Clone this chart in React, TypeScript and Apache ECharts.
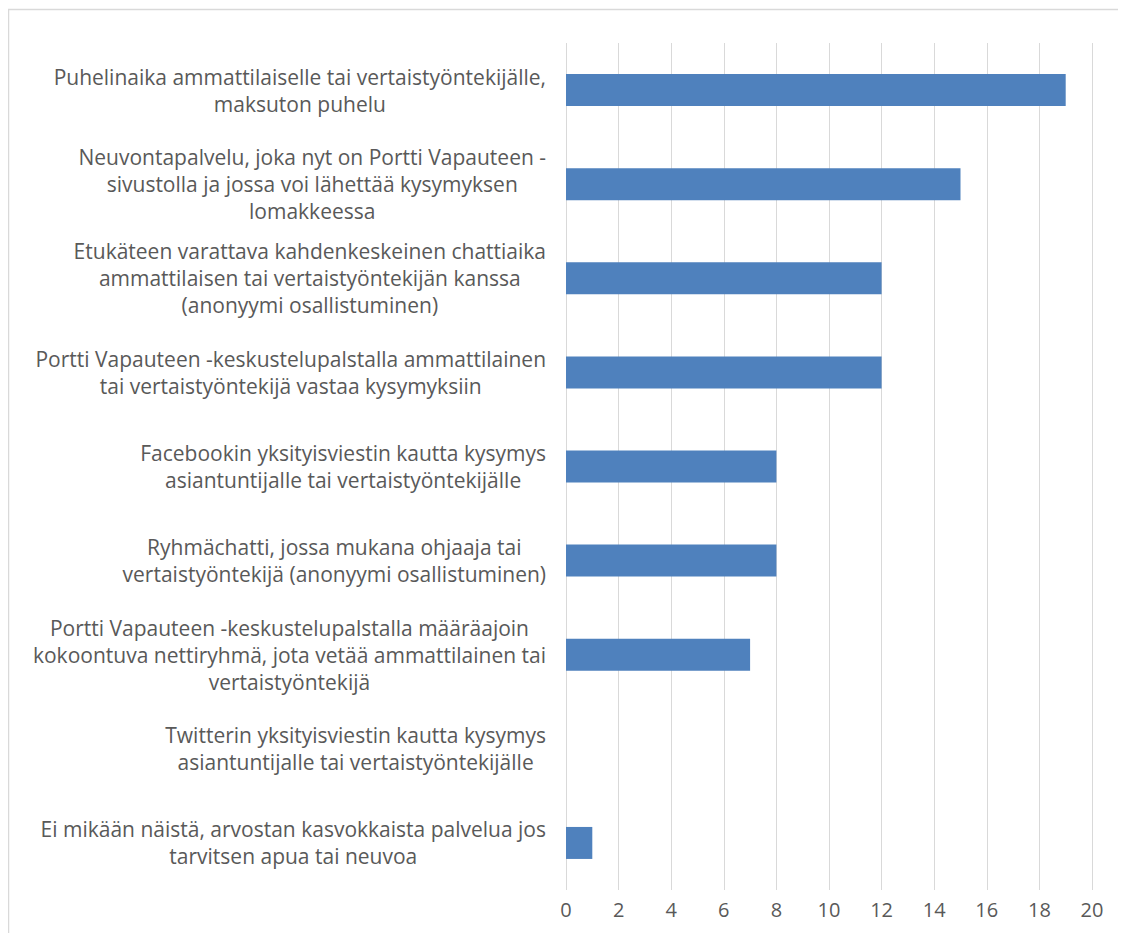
import React, { useEffect, useRef } from "react";
import * as echarts from "echarts";

const categories: string[] = [
  "Puhelinaika ammattilaiselle tai vertaistyöntekijälle,\nmaksuton puhelu",
  "Neuvontapalvelu, joka nyt on Portti Vapauteen -\nsivustolla ja jossa voi lähettää kysymyksen\nlomakkeessa",
  "Etukäteen varattava kahdenkeskeinen chattiaika\nammattilaisen tai vertaistyöntekijän kanssa\n(anonyymi osallistuminen)",
  "Portti Vapauteen -keskustelupalstalla ammattilainen\ntai vertaistyöntekijä vastaa kysymyksiin",
  "Facebookin yksityisviestin kautta kysymys\nasiantuntijalle tai vertaistyöntekijälle",
  "Ryhmächatti, jossa mukana ohjaaja tai\nvertaistyöntekijä (anonyymi osallistuminen)",
  "Portti Vapauteen -keskustelupalstalla määräajoin\nkokoontuva nettiryhmä, jota vetää ammattilainen tai\nvertaistyöntekijä",
  "Twitterin yksityisviestin kautta kysymys\nasiantuntijalle tai vertaistyöntekijälle",
  "Ei mikään näistä, arvostan kasvokkaista palvelua jos\ntarvitsen apua tai neuvoa",
];

const values: number[] = [19, 15, 12, 12, 8, 8, 7, 0, 1];

const FONT = "'Open Sans', 'Noto Sans', sans-serif";

export default function App() {
  const ref = useRef<HTMLDivElement>(null);
  useEffect(() => {
    if (!ref.current) return;
    const chart = echarts.init(ref.current, null, { renderer: "svg" });
    chart.setOption({
      animation: false,
      backgroundColor: "#ffffff",
      graphic: [
        {
          type: "rect",
          shape: { x: 0.5, y: 1.5, width: 1400, height: 1400 },
          style: { fill: "none", stroke: "#d9d9d9", lineWidth: 1.5 },
          silent: true,
        },
      ],
      grid: { left: 558, right: 34, top: 35, bottom: 43 },
      xAxis: {
        type: "value",
        min: 0,
        max: 20,
        interval: 2,
        axisLine: { show: false },
        axisTick: { show: false },
        splitLine: { show: true, lineStyle: { color: "#d9d9d9", width: 1 } },
        axisLabel: {
          color: "#595959",
          fontFamily: FONT,
          fontSize: 20,
          margin: 9,
        },
      },
      yAxis: {
        type: "category",
        data: categories,
        inverse: true,
        axisLine: { show: false },
        axisTick: { show: false },
        splitLine: { show: false },
        axisLabel: {
          margin: 20,
          formatter: (v: string) =>
            v
              .split("\n")
              .map((l) => "{a|" + l + "}")
              .join("\n"),
          rich: {
            a: {
              align: "center",
              color: "#595959",
              fontFamily: FONT,
              fontSize: 21,
              lineHeight: 27,
            },
          },
        },
      },
      series: [
        {
          type: "bar",
          data: values,
          barWidth: "34%",
          itemStyle: { color: "#4f81bd" },
        },
      ],
    });
    return () => chart.dispose();
  }, []);
  return <div ref={ref} style={{ width: 1118, height: 925 }} />;
}
